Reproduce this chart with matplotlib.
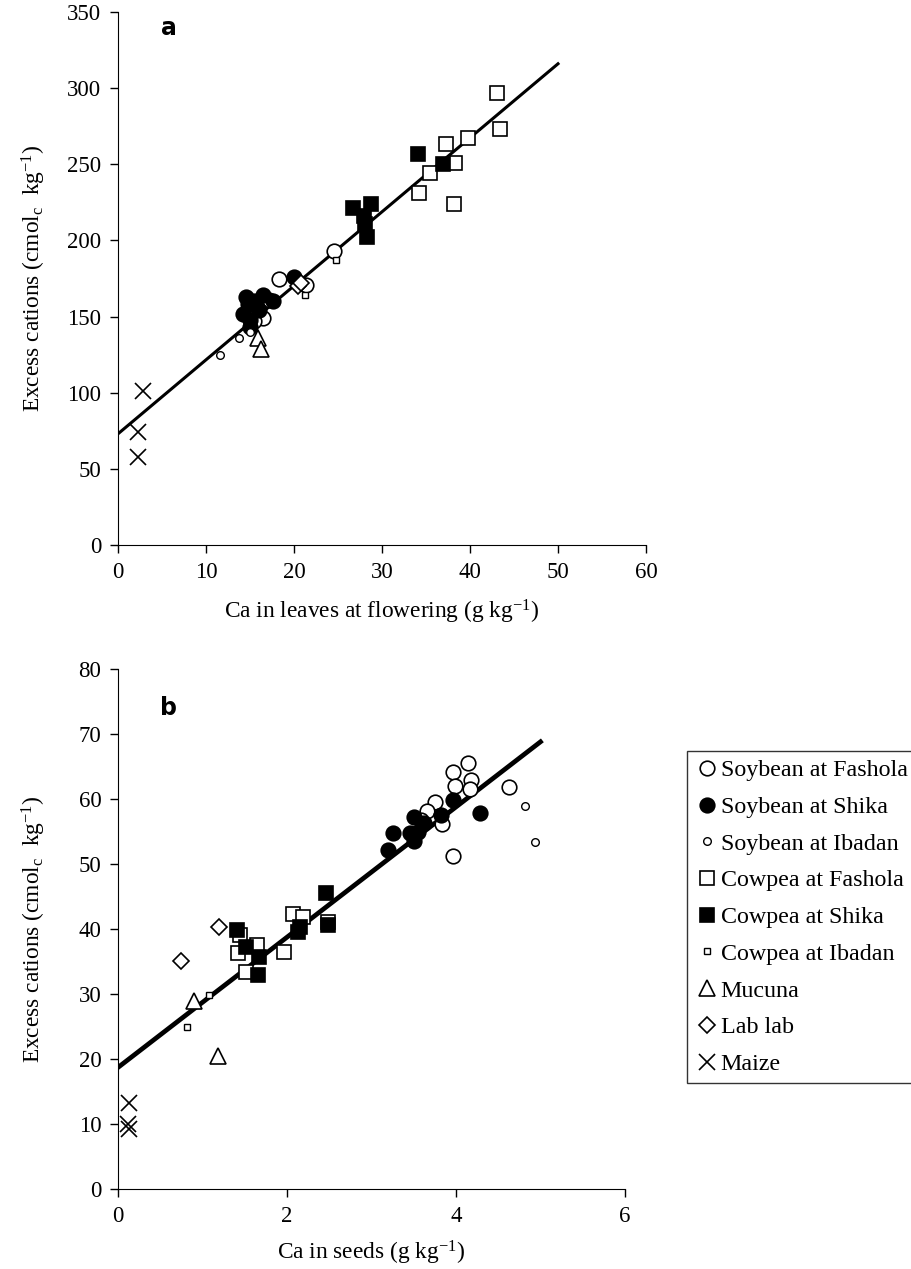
import numpy as np
import matplotlib
matplotlib.use('Agg')
import matplotlib.pyplot as plt

plt.rcParams['font.family'] = ['Liberation Serif', 'DejaVu Serif']
plt.rcParams['mathtext.fontset'] = 'custom'
plt.rcParams['mathtext.rm'] = 'Liberation Serif'
plt.rcParams['mathtext.it'] = 'Liberation Serif:italic'

# ---- panel a : Ca in leaves at flowering ----
a_soy_fash_x = [18.3, 24.6, 16.5, 21.4, 17.2, 15.4]
a_soy_fash_y = [175, 193, 149, 171, 161, 147]
a_soy_shika_x = [14.2, 14.6, 15.0, 15.8, 16.5, 17.6, 15.0, 14.8, 16.0, 15.4, 20.0]
a_soy_shika_y = [152, 163, 148, 156, 164, 160, 143, 158, 154, 160, 176]
a_soy_iba_x = [11.6, 13.8, 15.0]
a_soy_iba_y = [125, 136, 140]
a_cow_fash_x = [43.1, 43.4, 39.8, 37.3, 38.3, 35.5, 34.2, 38.2]
a_cow_fash_y = [297, 273, 267, 263, 251, 244, 231, 224]
a_cow_shika_x = [34.1, 36.9, 26.7, 28.8, 27.9, 28.1, 28.3]
a_cow_shika_y = [257, 250, 221, 224, 216, 211, 202]
a_cow_iba_x = [24.8, 21.2]
a_cow_iba_y = [187, 164]
a_mucuna_x = [15.9, 16.3]
a_mucuna_y = [136, 129]
a_lablab_x = [20.5, 20.8]
a_lablab_y = [170, 172]
a_maize_x = [2.8, 2.3, 2.3]
a_maize_y = [101, 74, 58]
a_fit = [73, 316]   # y at x=0 and x=50

# ---- panel b : Ca in seeds ----
b_soy_fash_x = [4.14, 3.97, 4.18, 3.99, 4.16, 4.63, 3.75, 3.66, 3.84, 3.97, 3.58]
b_soy_fash_y = [65.6, 64.2, 63.0, 62.0, 61.6, 61.8, 59.5, 58.2, 56.2, 51.2, 56.8]
b_soy_shika_x = [3.2, 3.25, 3.45, 3.5, 3.5, 3.55, 3.62, 3.82, 3.97, 4.28]
b_soy_shika_y = [52.1, 54.8, 54.8, 53.6, 57.2, 55.0, 56.3, 57.5, 59.9, 57.8]
b_soy_iba_x = [4.82, 4.94]
b_soy_iba_y = [59.0, 53.4]
b_cow_fash_x = [1.44, 1.42, 1.52, 1.64, 2.07, 2.19, 1.96, 2.49]
b_cow_fash_y = [39.1, 36.3, 33.4, 37.5, 42.3, 41.8, 36.5, 41.1]
b_cow_shika_x = [1.41, 1.51, 1.67, 1.66, 2.13, 2.15, 2.46, 2.48]
b_cow_shika_y = [39.8, 37.3, 35.7, 32.9, 39.6, 40.3, 45.6, 40.6]
b_cow_iba_x = [0.82, 1.08]
b_cow_iba_y = [24.9, 29.8]
b_mucuna_x = [0.90, 1.18]
b_mucuna_y = [29.0, 20.5]
b_lablab_x = [0.75, 1.19]
b_lablab_y = [35.1, 40.3]
b_maize_x = [0.13, 0.12, 0.13]
b_maize_y = [13.2, 10.0, 9.2]
b_fit = [18.7, 68.8]  # y at x=0 and x=5

labels = ['Soybean at Fashola', 'Soybean at Shika', 'Soybean at Ibadan',
          'Cowpea at Fashola', 'Cowpea at Shika', 'Cowpea at Ibadan',
          'Mucuna', 'Lab lab', 'Maize']

styles = [
    dict(marker='o', ms=10.5, mfc='white', mec='black', mew=1.2),
    dict(marker='o', ms=10.5, mfc='black', mec='black', mew=1.2),
    dict(marker='o', ms=5.5, mfc='white', mec='black', mew=1.0),
    dict(marker='s', ms=10.5, mfc='white', mec='black', mew=1.2),
    dict(marker='s', ms=10.5, mfc='black', mec='black', mew=1.2),
    dict(marker='s', ms=5, mfc='white', mec='black', mew=1.0),
    dict(marker='^', ms=11.5, mfc='white', mec='black', mew=1.2),
    dict(marker='D', ms=8, mfc='white', mec='black', mew=1.2),
    dict(marker='x', ms=11, mfc='none', mec='black', mew=1.2),
]

fig = plt.figure(figsize=(9.11, 12.69), dpi=100)
ax1 = fig.add_axes([118/911, 1 - 545/1269, 528/911, 533/1269])
ax2 = fig.add_axes([118/911, 1 - 1189/1269, 507/911, 520/1269])

series_a = [(a_soy_fash_x, a_soy_fash_y), (a_soy_shika_x, a_soy_shika_y),
            (a_soy_iba_x, a_soy_iba_y), (a_cow_fash_x, a_cow_fash_y),
            (a_cow_shika_x, a_cow_shika_y), (a_cow_iba_x, a_cow_iba_y),
            (a_mucuna_x, a_mucuna_y), (a_lablab_x, a_lablab_y),
            (a_maize_x, a_maize_y)]
series_b = [(b_soy_fash_x, b_soy_fash_y), (b_soy_shika_x, b_soy_shika_y),
            (b_soy_iba_x, b_soy_iba_y), (b_cow_fash_x, b_cow_fash_y),
            (b_cow_shika_x, b_cow_shika_y), (b_cow_iba_x, b_cow_iba_y),
            (b_mucuna_x, b_mucuna_y), (b_lablab_x, b_lablab_y),
            (b_maize_x, b_maize_y)]

for (x, y), st, lab in zip(series_a, styles, labels):
    ax1.plot(x, y, ls='none', label=lab, zorder=3, **st)
ax1.plot([0, 50], a_fit, color='black', lw=2.2, zorder=2)

handles = []
for (x, y), st, lab in zip(series_b, styles, labels):
    h, = ax2.plot(x, y, ls='none', label=lab, zorder=3, **st)
    handles.append(h)
ax2.plot([0, 5], b_fit, color='black', lw=3.4, zorder=2)

ax1.set_xlim(0, 60)
ax1.set_ylim(0, 350)
ax1.set_xticks(range(0, 61, 10))
ax1.set_yticks(range(0, 351, 50))
ax2.set_xlim(0, 6)
ax2.set_ylim(0, 80)
ax2.set_xticks([0, 2, 4, 6])
ax2.set_yticks(range(0, 81, 10))

ylab = 'Excess cations (cmol$_{\\mathrm{c}}$  kg$^{\\mathrm{-1}}$)'
ax1.set_xlabel('Ca in leaves at flowering (g kg$^{\\mathrm{-1}}$)', fontsize=16.8, labelpad=11)
ax1.set_ylabel(ylab, fontsize=16.8)
ax2.set_xlabel('Ca in seeds (g kg$^{\\mathrm{-1}}$)', fontsize=16.8, labelpad=9)
ax2.set_ylabel(ylab, fontsize=16.8)
ax1.yaxis.set_label_coords((48 - 118) / 528, 0.5)
ax2.yaxis.set_label_coords((48 - 118) / 507, 0.5)

for ax, letter, ypos in [(ax1, 'a', 0.97), (ax2, 'b', 0.925)]:
    for s in ['top', 'right']:
        ax.spines[s].set_visible(False)
    ax.tick_params(direction='out', length=6, labelsize=16.5, width=1, pad=6)
    ax.text(0.082, ypos, letter, transform=ax.transAxes, fontsize=17,
            fontweight='bold', family='DejaVu Sans', va='center')

leg = ax2.legend(handles=handles, loc='upper left',
                 bbox_to_anchor=((687 - 118) / 507, (1189 - 751) / 520),
                 frameon=True, fancybox=False, edgecolor='black', fontsize=17.3,
                 handletextpad=0.05, handlelength=1.0, labelspacing=0.62,
                 borderpad=0.35, borderaxespad=0.0)
leg.get_frame().set_linewidth(1.0)

fig.savefig('out.png', dpi=100)
